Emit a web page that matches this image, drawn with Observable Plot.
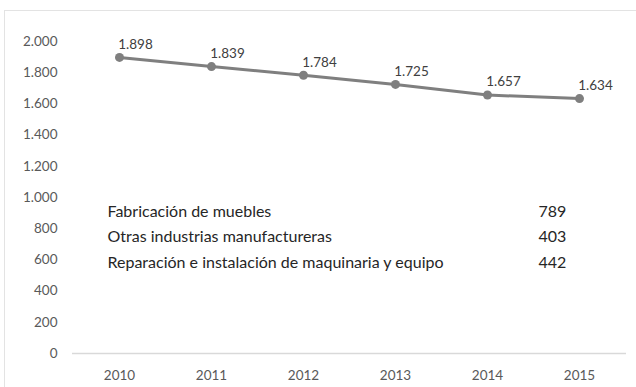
<!DOCTYPE html>
<html>
<head>
<meta charset="utf-8">
<script src="https://cdn.jsdelivr.net/npm/d3@7"></script>
<script src="https://cdn.jsdelivr.net/npm/@observablehq/plot@0.6"></script>
<style>
  html, body { margin: 0; padding: 0; background: #fff; }
  #wrap { position: relative; width: 636px; height: 387px; overflow: hidden; }
  #border { position: absolute; left: 4px; top: 10px; width: 700px; height: 500px; border-top: 1px solid #e3e3e3; border-left: 1px solid #e3e3e3; box-sizing: border-box; }
  #chart { position: absolute; left: 0; top: 0; }
</style>
</head>
<body>
<div id="wrap"><div id="border"></div><div id="chart"></div></div>
<script>
const years = ["2010", "2011", "2012", "2013", "2014", "2015"];
const values = [1898, 1839, 1784, 1725, 1657, 1634];
const yTicks = [0, 200, 400, 600, 800, 1000, 1200, 1400, 1600, 1800, 2000];
const tableNames = ["Fabricación de muebles", "Otras industrias manufactureras", "Reparación e instalación de maquinaria y equipo"];
const tableValues = ["789", "403", "442"];

const data = years.map((y, i) => ({year: y, value: values[i]}));
const fmt = d3.format(",");
const es = v => fmt(v).replace(/,/g, ".");

const plot = Plot.plot({
  width: 636,
  height: 387,
  marginLeft: 72,
  marginRight: 10,
  marginTop: 41,
  marginBottom: 34,
  style: {fontFamily: "Lato, 'Open Sans', sans-serif", fontSize: "13.5px", color: "#595959", background: "transparent"},
  x: {type: "point", domain: years, padding: 0.5, label: null, tickSize: 0, tickPadding: 17},
  y: {domain: [0, 2000], ticks: yTicks, tickFormat: es, label: null, tickSize: 0, tickPadding: 15},
  marks: [
    Plot.ruleY([0], {stroke: "#d9d9d9", strokeWidth: 1.5}),
    Plot.line(data, {x: "year", y: "value", stroke: "#7f7f7f", strokeWidth: 3}),
    Plot.dot(data, {x: "year", y: "value", fill: "#7f7f7f", r: 4.5}),
    Plot.text(data, {x: "year", y: "value", text: d => es(d.value), dx: 16, dy: -13, fill: "#404040", fontSize: 13.5}),
    Plot.text([tableNames.join("\n")], {frameAnchor: "top-left", dx: 35, dy: 157, textAnchor: "start", lineAnchor: "top", lineHeight: 1.6, fill: "#262626", fontSize: 16, text: d => d}),
    Plot.text([tableValues.join("\n")], {frameAnchor: "top-left", dx: 466, dy: 157, textAnchor: "start", lineAnchor: "top", lineHeight: 1.6, fill: "#262626", fontSize: 16, text: d => d})
  ]
});
document.getElementById("chart").appendChild(plot);
</script>
</body>
</html>
